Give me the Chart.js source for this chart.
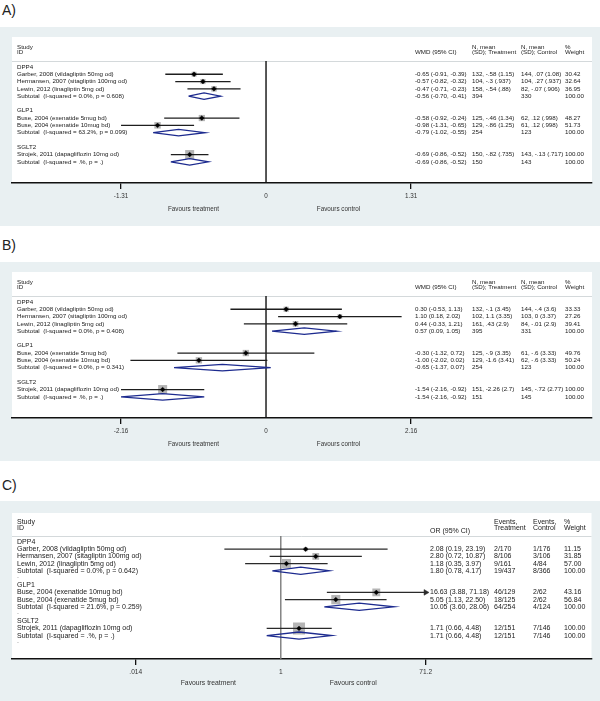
<!DOCTYPE html>
<html>
<head>
<meta charset="utf-8">
<script src="https://cdn.jsdelivr.net/npm/chart.js@4.4.1/dist/chart.umd.min.js"></script>
<style>
  html, body { margin: 0; padding: 0; background: #fff; }
  body { width: 600px; height: 701px; position: relative; overflow: hidden; font-family: "Liberation Sans", Arial, sans-serif; }
  .lbl { position: absolute; left: 2px; font-size: 14px; line-height: 16px; color: #222; }
  .panel { position: absolute; left: 0; width: 600px; background: #e9f0f2; }
  canvas { display: block; }
</style>
</head>
<body>
<div class="lbl" style="top:2px">A)</div>
<div class="panel" style="top:27px;height:199px"><canvas id="chartA" width="600" height="199"></canvas></div>
<div class="lbl" style="top:237px">B)</div>
<div class="panel" style="top:262px;height:199px"><canvas id="chartB" width="600" height="199"></canvas></div>
<div class="lbl" style="top:477px">C)</div>
<div class="panel" style="top:501px;height:200px"><canvas id="chartC" width="600" height="200"></canvas></div>

<script>
// ---------------- shared ----------------
const groupNames = ['DPP4', 'GLP1', 'SGLT2'];
const studyGroup = [0, 0, 0, 1, 1, 2];

// ---------------- Panel A (WMD) ----------------
const aStudyNames = ['Garber, 2008 (vildagliptin 50mg od)', 'Hermansen, 2007 (sitagliptin 100mg od)', 'Lewin, 2012 (linagliptin 5mg od)', 'Buse, 2004 (exenatide 5mug bd)', 'Buse, 2004 (exenatide 10mug bd)', 'Strojek, 2011 (dapagliflozin 10mg od)'];
const aEst  = [-0.65, -0.57, -0.47, -0.58, -0.98, -0.69];
const aLow  = [-0.91, -0.82, -0.71, -0.92, -1.31, -0.86];
const aHigh = [-0.39, -0.32, -0.23, -0.24, -0.65, -0.52];
const aTreatment = ['132, -.58 (1.15)', '104, -.3 (.937)', '158, -.54 (.88)', '125, -.46 (1.34)', '129, -.86 (1.25)', '150, -.82 (.735)'];
const aControl   = ['144, .07 (1.08)', '104, .27 (.937)', '82, -.07 (.906)', '62, .12 (.998)', '61, .12 (.998)', '143, -.13 (.717)'];
const aWeight = [30.42, 32.64, 36.95, 48.27, 51.73, 100.00];
const aSubHet  = ['I-squared = 0.0%, p = 0.608', 'I-squared = 63.2%, p = 0.099', 'I-squared = .%, p = .'];
const aSubEst  = [-0.56, -0.79, -0.69];
const aSubLow  = [-0.70, -1.02, -0.86];
const aSubHigh = [-0.41, -0.55, -0.52];
const aSubTreatment = ['394', '254', '150'];
const aSubControl   = ['330', '123', '143'];
const aTickValues = [-1.31, 0, 1.31];
const aTickLabels = ['-1.31', '0', '1.31'];
const aHeaders = [['', 'WMD (95% CI)'], ['N, mean', '(SD); Treatment'], ['N, mean', '(SD); Control'], ['%', 'Weight']];

// ---------------- Panel B (WMD) ----------------
const bStudyNames = ['Garber, 2008 (vildagliptin 50mg od)', 'Hermansen, 2007 (sitagliptin 100mg od)', 'Lewin, 2012 (linagliptin 5mg od)', 'Buse, 2004 (exenatide 5mug bd)', 'Buse, 2004 (exenatide 10mug bd)', 'Strojek, 2011 (dapagliflozin 10mg od)'];
const bEst  = [0.30, 1.10, 0.44, -0.30, -1.00, -1.54];
const bLow  = [-0.53, 0.18, -0.33, -1.32, -2.02, -2.16];
const bHigh = [1.13, 2.02, 1.21, 0.72, 0.02, -0.92];
const bTreatment = ['132, -.1 (3.45)', '102, 1.1 (3.35)', '161, .43 (2.9)', '125, -.9 (3.35)', '129, -1.6 (3.41)', '151, -2.26 (2.7)'];
const bControl   = ['144, -.4 (3.6)', '103, 0 (3.37)', '84, -.01 (2.9)', '61, -.6 (3.33)', '62, -.6 (3.33)', '145, -.72 (2.77)'];
const bWeight = [33.33, 27.26, 39.41, 49.76, 50.24, 100.00];
const bSubHet  = ['I-squared = 0.0%, p = 0.408', 'I-squared = 0.0%, p = 0.341', 'I-squared = .%, p = .'];
const bSubEst  = [0.57, -0.65, -1.54];
const bSubLow  = [0.09, -1.37, -2.16];
const bSubHigh = [1.05, 0.07, -0.92];
const bSubTreatment = ['395', '254', '151'];
const bSubControl   = ['331', '123', '145'];
const bTickValues = [-2.16, 0, 2.16];
const bTickLabels = ['-2.16', '0', '2.16'];
const bHeaders = aHeaders;

// ---------------- Panel C (OR) ----------------
const cStudyNames = ['Garber, 2008 (vildagliptin 50mg od)', 'Hermansen, 2007 (sitagliptin 100mg od)', 'Lewin, 2012 (linagliptin 5mg od)', 'Buse, 2004 (exenatide 10mug bd)', 'Buse, 2004 (exenatide 5mug bd)', 'Strojek, 2011 (dapagliflozin 10mg od)'];
const cEst  = [2.08, 2.80, 1.18, 16.63, 5.05, 1.71];
const cLow  = [0.19, 0.72, 0.35, 3.88, 1.13, 0.66];
const cHigh = [23.19, 10.87, 3.97, 71.18, 22.50, 4.48];
const cTreatment = ['2/170', '8/106', '9/161', '46/129', '18/125', '12/151'];
const cControl   = ['1/176', '3/106', '4/84', '2/62', '2/62', '7/146'];
const cWeight = [11.15, 31.85, 57.00, 43.16, 56.84, 100.00];
const cSubHet  = ['I-squared = 0.0%, p = 0.642', 'I-squared = 21.6%, p = 0.259', 'I-squared = .%, p = .'];
const cSubEst  = [1.80, 10.05, 1.71];
const cSubLow  = [0.78, 3.60, 0.66];
const cSubHigh = [4.17, 28.06, 4.48];
const cSubTreatment = ['19/437', '64/254', '12/151'];
const cSubControl   = ['8/366', '4/124', '7/146'];
const cTickValues = [0.014, 1, 71.2];
const cTickLabels = ['.014', '1', '71.2'];
const cHeaders = [['', 'OR (95% CI)'], ['Events,', 'Treatment'], ['Events,', 'Control'], ['%', 'Weight']];

const FONT = '"Liberation Sans", Arial, Helvetica, sans-serif';

function buildRows(groups) {
  const nG = Math.max(...groups) + 1;
  const rows = { group: [], study: [], sub: [], blank: [] };
  let r = 0;
  for (let g = 0; g < nG; g++) {
    rows.group[g] = r++;
    groups.forEach((gg, i) => { if (gg === g) rows.study[i] = r++; });
    rows.sub[g] = r++;
    rows.blank.push(r++);
  }
  return rows;
}

function fmtCI(e, l, h) { return e.toFixed(2) + ' (' + l.toFixed(2) + ', ' + h.toFixed(2) + ')'; }

function makeForest(id, P) {
  const rows = buildRows(studyGroup);
  const datasets = [];
  // reference line
  datasets.push({ data: [{ x: P.ref, y: P.headerRow }, { x: P.ref, y: P.yMax }], showLine: true,
    borderColor: P.refColor, borderWidth: 1.4, pointRadius: 0, order: 60 });
  // weight boxes
  datasets.push({ data: P.est.map((e, i) => ({ x: e, y: rows.study[i], w: P.weight[i] })), showLine: false,
    pointStyle: 'rect', pointRadius: c => (c.raw ? P.boxSize * Math.sqrt(c.raw.w / 100) / Math.SQRT2 : 0),
    backgroundColor: '#b5b5b5', borderColor: '#b5b5b5', borderWidth: 0, order: 50 });
  // CI lines
  P.est.forEach((e, i) => {
    datasets.push({ data: [{ x: P.low[i], y: rows.study[i] }, { x: P.high[i], y: rows.study[i] }], showLine: true,
      borderColor: P.ciColor, borderWidth: 1.3, pointRadius: 0, order: 30 });
  });
  // arrow heads where the CI reaches the axis limit
  const lastTick = P.tickValues[P.tickValues.length - 1];
  const arrows = [];
  P.high.forEach((h, i) => { if (h >= lastTick * 0.995) arrows.push({ x: h, y: rows.study[i] }); });
  datasets.push({ data: arrows, showLine: false, pointStyle: 'triangle', rotation: 90, pointRadius: 3.3,
    backgroundColor: P.ciColor, borderColor: P.ciColor, borderWidth: 0.5, order: 20 });
  // point estimates
  datasets.push({ data: P.est.map((e, i) => ({ x: e, y: rows.study[i] })), showLine: false,
    pointStyle: 'rectRot', pointRadius: 2.4, backgroundColor: '#000', borderColor: '#000', borderWidth: 0.4, order: 10 });
  // subtotal diamonds
  P.subEst.forEach((e, g) => {
    const r = rows.sub[g];
    datasets.push({ data: [{ x: P.subLow[g], y: r }, { x: e, y: r - P.dh }, { x: P.subHigh[g], y: r }, { x: e, y: r + P.dh }, { x: P.subLow[g], y: r }],
      showLine: true, fill: false, tension: 0, borderColor: '#1d2b8f', borderWidth: 1.3, pointRadius: 0, order: 25 });
  });

  const textPlugin = {
    id: 'forestText' + id,
    beforeDatasetsDraw(chart) {
      const { ctx, chartArea: a } = chart;
      const y = Math.round(chart.scales.y.getPixelForValue(P.headerRow)) + 0.5;
      ctx.save();
      ctx.strokeStyle = '#d4d9db';
      ctx.lineWidth = 1;
      ctx.beginPath(); ctx.moveTo(a.left, y); ctx.lineTo(a.right, y); ctx.stroke();
      ctx.restore();
    },
    beforeDraw(chart) {
      const { ctx, chartArea: a } = chart;
      ctx.save();
      ctx.fillStyle = '#ffffff';
      ctx.fillRect(a.left, a.top, a.right - a.left, a.bottom - a.top);
      ctx.restore();
    },
    afterDraw(chart) {
      const { ctx, chartArea: a } = chart;
      const ys = chart.scales.y, xs = chart.scales.x;
      const Y = v => ys.getPixelForValue(v);
      ctx.save();
      ctx.fillStyle = '#1a1a1a';
      ctx.textBaseline = 'middle';
      ctx.textAlign = 'left';
      ctx.font = P.fontSize + 'px ' + FONT;
      const L = P.labelX, C = P.cols;
      // header
      ctx.fillText('Study', L, Y(P.hdr1));
      ctx.fillText('ID', L, Y(P.hdr2));
      P.headers.forEach((h, k) => {
        if (h[0]) ctx.fillText(h[0], C[k], Y(P.hdr1));
        ctx.fillText(h[1], C[k], Y(k === 0 ? P.hdrCI : P.hdr2));
      });
      // groups
      groupNames.forEach((g, k) => ctx.fillText(g, L, Y(rows.group[k])));
      // studies
      P.names.forEach((n, i) => {
        const y = Y(rows.study[i]);
        ctx.fillText(n, L, y);
        ctx.fillText(fmtCI(P.est[i], P.low[i], P.high[i]), C[0], y);
        ctx.fillText(P.treat[i], C[1], y);
        ctx.fillText(P.ctrl[i], C[2], y);
        ctx.fillText(P.weight[i].toFixed(2), C[3], y);
      });
      // subtotals
      P.subEst.forEach((e, g) => {
        const y = Y(rows.sub[g]);
        ctx.fillText('Subtotal  (' + P.subHet[g] + ')', L, y);
        ctx.fillText(fmtCI(e, P.subLow[g], P.subHigh[g]), C[0], y);
        ctx.fillText(P.subTreat[g], C[1], y);
        ctx.fillText(P.subCtrl[g], C[2], y);
        ctx.fillText('100.00', C[3], y);
      });
      if (P.dots) {
        ctx.fillStyle = '#777';
        rows.blank.forEach(r => ctx.fillText('.', L, Y(r) - 2));
      }
      // favours labels
      ctx.fillStyle = '#333';
      ctx.font = P.favSize + 'px ' + FONT;
      ctx.textAlign = 'center';
      const x0 = xs.getPixelForValue(P.ref);
      const xl = xs.getPixelForValue(P.tickValues[0]);
      const xr = xs.getPixelForValue(P.tickValues[P.tickValues.length - 1]);
      const fy = a.bottom + P.favOffset;
      ctx.fillText('Favours treatment', (x0 + xl) / 2, fy);
      ctx.fillText('Favours control', (x0 + xr) / 2, fy);
      ctx.restore();
    }
  };

  return new Chart(document.getElementById(id), {
    type: 'scatter',
    data: { datasets },
    options: {
      responsive: false, animation: false, devicePixelRatio: 1, events: [],
      layout: { padding: { left: 12, right: 8, top: P.padTop, bottom: 0 } },
      plugins: { legend: { display: false }, tooltip: { enabled: false } },
      scales: {
        x: {
          type: P.log ? 'logarithmic' : 'linear', min: P.xMin, max: P.xMax,
          afterBuildTicks: s => { s.ticks = P.tickValues.map(v => ({ value: v })); },
          afterFit: s => { s.height = P.axisH; },
          ticks: { autoSkip: false, maxRotation: 0, minRotation: 0, padding: 3, color: '#333',
            font: { family: FONT, size: P.tickSize }, callback: (v, i) => P.tickLabels[i] },
          grid: { drawOnChartArea: false, drawTicks: true, tickLength: 6, lineWidth: 1.3,
            color: c => (c.tick && c.tick.value === P.ref) ? 'rgba(0,0,0,0)' : '#111' },
          border: { display: true, color: '#111', width: 1.5 }
        },
        y: { type: 'linear', display: false, reverse: true, min: P.yMin, max: P.yMax }
      }
    },
    plugins: [textPlugin]
  });
}

const commonAB = { ref: 0, refColor: '#111', ciColor: '#1e1e1e', boxSize: 9, dh: 0.45,
  padTop: 10, axisH: 43, yMin: -4.1, yMax: 15.9, headerRow: -0.82, hdr1: -2.75, hdr2: -1.95, hdrCI: -1.95,
  fontSize: 6.2, tickSize: 6.3, favSize: 6.3, favOffset: 26.5, labelX: 17, cols: [415, 472, 521, 565], dots: false };

makeForest('chartA', Object.assign({}, commonAB, {
  names: aStudyNames, est: aEst, low: aLow, high: aHigh, treat: aTreatment, ctrl: aControl, weight: aWeight,
  subHet: aSubHet, subEst: aSubEst, subLow: aSubLow, subHigh: aSubHigh, subTreat: aSubTreatment, subCtrl: aSubControl,
  tickValues: aTickValues, tickLabels: aTickLabels, headers: aHeaders, xMin: -2.295, xMax: 2.945 }));

makeForest('chartB', Object.assign({}, commonAB, {
  names: bStudyNames, est: bEst, low: bLow, high: bHigh, treat: bTreatment, ctrl: bControl, weight: bWeight,
  subHet: bSubHet, subEst: bSubEst, subLow: bSubLow, subHigh: bSubHigh, subTreat: bSubTreatment, subCtrl: bSubControl,
  tickValues: bTickValues, tickLabels: bTickLabels, headers: bHeaders, xMin: -3.784, xMax: 4.856 }));

makeForest('chartC', {
  names: cStudyNames, est: cEst, low: cLow, high: cHigh, treat: cTreatment, ctrl: cControl, weight: cWeight,
  subHet: cSubHet, subEst: cSubEst, subLow: cSubLow, subHigh: cSubHigh, subTreat: cSubTreatment, subCtrl: cSubControl,
  tickValues: cTickValues, tickLabels: cTickLabels, headers: cHeaders,
  log: true, xMin: Math.pow(10, -3.436), xMax: Math.pow(10, 3.972),
  ref: 1, refColor: '#7a7a7a', ciColor: '#2a2a2a', boxSize: 12, dh: 0.5,
  padTop: 12, axisH: 42, yMin: -4.03, yMax: 16.25, headerRow: -0.83, hdr1: -2.78, hdr2: -2.0, hdrCI: -1.55,
  fontSize: 7, tickSize: 6.6, favSize: 6.8, favOffset: 24, labelX: 17, cols: [430, 494, 533, 564], dots: true });
</script>
</body>
</html>
